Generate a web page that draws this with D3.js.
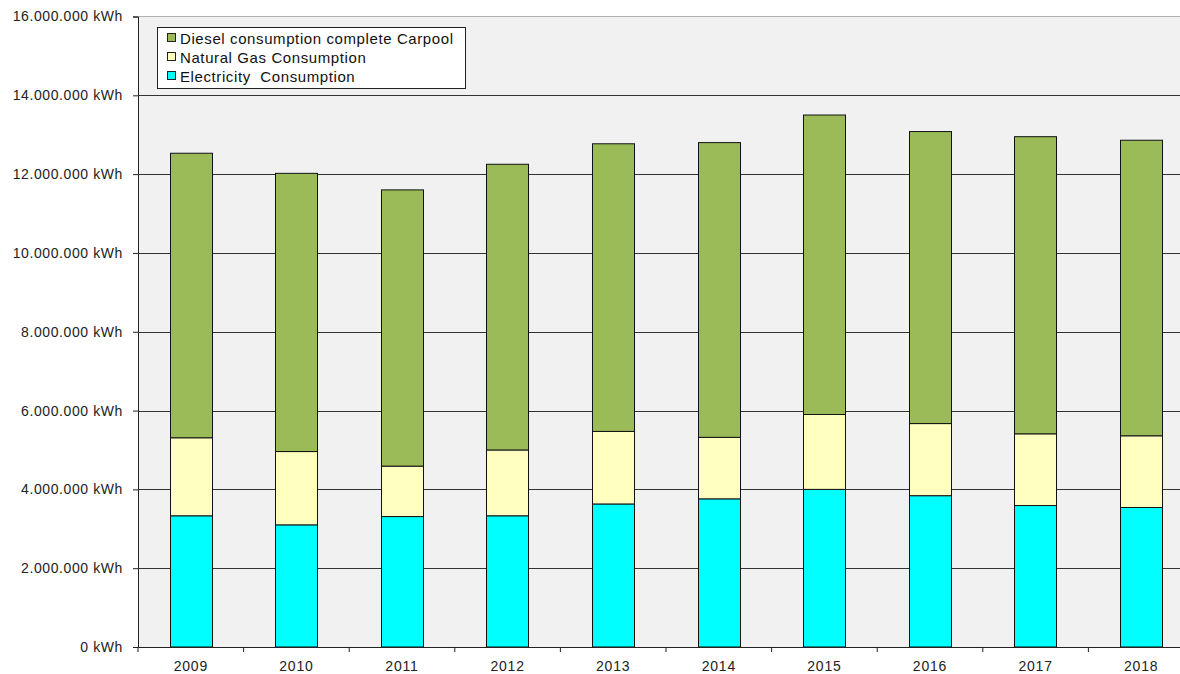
<!DOCTYPE html>
<html><head><meta charset="utf-8">
<script src="https://cdn.jsdelivr.net/npm/d3@7"></script>
<style>body{margin:0;background:#fff}svg{display:block;font-family:"Liberation Sans",Arial,sans-serif}</style>
</head><body><svg id="c" width="1180" height="674"></svg>
<script>
const years = ["2009","2010","2011","2012","2013","2014","2015","2016","2017","2018"];
const electricity = [3330000,3100000,3310000,3330000,3630000,3760000,4000000,3840000,3590000,3540000];
const naturalGas = [1980000,1860000,1280000,1670000,1840000,1560000,1900000,1830000,1820000,1820000];
const diesel = [7220000,7060000,7010000,7250000,7300000,7480000,7600000,7410000,7540000,7500000];
const seriesNames = ["Electricity  Consumption","Natural Gas Consumption","Diesel consumption complete Carpool"];
const seriesColors = ["#00FFFF","#FFFFC0","#9BBB59"];
const yTicks = [0,2000000,4000000,6000000,8000000,10000000,12000000,14000000,16000000];

const svg = d3.select("#c");
const L = 138, R = 1194, T = 16.5, B = 647;
const x = d3.scaleBand().domain(years).range([L,R]).paddingInner(0.6).paddingOuter(0.3);
const y = d3.scaleLinear().domain([0,16000000]).range([B,T]);

svg.append("rect").attr("x",L).attr("y",T).attr("width",R-L).attr("height",B-T).attr("fill","#F1F1F1");
svg.append("line").attr("x1",L).attr("x2",R).attr("y1",T).attr("y2",T).attr("stroke","#b0b0b0");

const fmt = v => (v===0?"0":d3.format(",")(v).replace(/,/g,".")) + " kWh";
const ya = svg.append("g").attr("transform",`translate(${L},0)`)
  .call(d3.axisLeft(y).tickValues(yTicks).tickSize(5).tickFormat(fmt));
ya.select(".domain").attr("stroke","#222");
ya.selectAll(".tick line").attr("stroke","#222");
ya.selectAll(".tick text").attr("font-size","14px").attr("letter-spacing","0.6px").attr("fill","#222").attr("x",-15);
ya.style("font-family",null);

svg.append("g").selectAll("line").data(yTicks.filter(d=>d>0&&d<16000000)).join("line")
  .attr("x1",L).attr("x2",R).attr("y1",d=>Math.round(y(d))+0.5).attr("y2",d=>Math.round(y(d))+0.5)
  .attr("stroke","#333").attr("stroke-width",1);

const stackData = years.map((yr,i)=>({year:yr,e:electricity[i],g:naturalGas[i],d:diesel[i]}));
const stack = d3.stack().keys(["e","g","d"])(stackData);
stack.forEach((s,si)=>{
  svg.append("g").selectAll("rect").data(s).join("rect")
    .attr("x",d=>Math.round(x(d.data.year))+0.5)
    .attr("width",Math.round(x.bandwidth()))
    .attr("y",d=>y(d[1]))
    .attr("height",d=>y(d[0])-y(d[1]))
    .attr("fill",seriesColors[si]).attr("stroke","#111").attr("stroke-width",1);
});

const xa = svg.append("g").attr("transform",`translate(0,${B})`)
  .call(d3.axisBottom(x).tickSize(0).tickFormat(d=>d));
xa.select(".domain").attr("stroke","#222");
xa.selectAll(".tick text").attr("font-size","14px").attr("letter-spacing","0.8px").attr("fill","#222").attr("y",24).attr("dy","0");
xa.style("font-family",null);
const step = x.step();
svg.append("g").selectAll("line").data(d3.range(0,years.length+1)).join("line")
  .attr("x1",i=>L+i*step).attr("x2",i=>L+i*step).attr("y1",B).attr("y2",B+5).attr("stroke","#222");

const lg = svg.append("g");
lg.append("rect").attr("x",157.5).attr("y",27.5).attr("width",308).attr("height",61).attr("fill","#fff").attr("stroke","#222");
const order = [2,1,0];
order.forEach((si,k)=>{
  const cy = 38 + k*19;
  lg.append("rect").attr("x",167.5).attr("y",cy-4.5).attr("width",8).attr("height",8).attr("fill",seriesColors[si]).attr("stroke","#222");
  lg.append("text").attr("x",180).attr("y",cy+5.5).attr("font-size","15px").attr("letter-spacing","0.6px")
    .style("white-space","pre").attr("fill","#111").text(seriesNames[si]);
});
</script></body></html>
